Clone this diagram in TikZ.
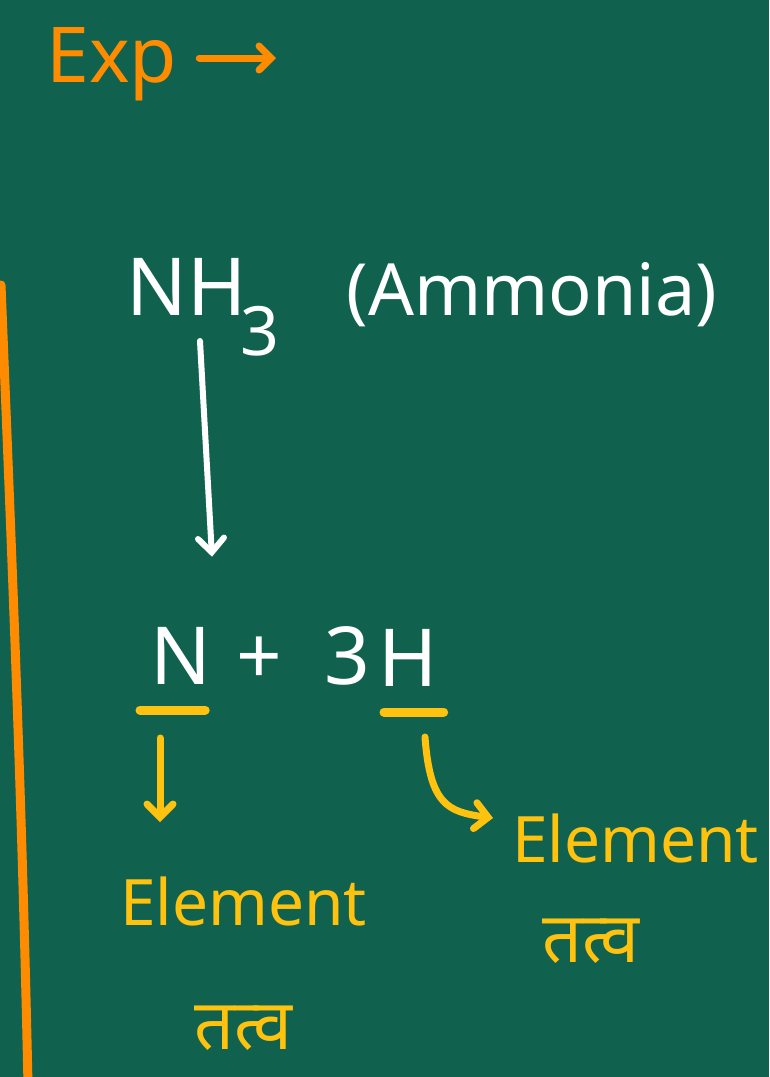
\documentclass[tikz,border=0pt]{standalone}
\usepackage{fontspec}
\setmainfont{Noto Sans}
\newfontfamily\devfont[Script=Devanagari]{Noto Sans}
\usetikzlibrary{arrows.meta,positioning,calc}

\definecolor{board}{HTML}{10624F}
\definecolor{chalkor}{HTML}{FF8C00}
\definecolor{chalkye}{HTML}{FFC20E}

\begin{document}
\begin{tikzpicture}[
  x=1pt, y=-1pt,
  txt/.style  = {inner sep=0pt, anchor=base west},
  wt/.style   = {txt, text=white, font=\fontsize{80}{80}\selectfont},
  ot/.style   = {txt, text=chalkor, font=\fontsize{77}{77}\selectfont},
  yt/.style   = {txt, text=chalkye, font=\fontsize{64}{64}\selectfont},
  hin/.style  = {inner sep=0pt, text=chalkye, font=\devfont\fontsize{70}{70}\selectfont},
  war/.style  = {-{Straight Barb[length=14pt,width=26pt,line cap=round]},
                 line width=6pt, line cap=round, white},
  yar/.style  = {-{Straight Barb[length=13pt,width=26pt,line cap=round]},
                 line width=7pt, line cap=round, chalkye},
  oar/.style  = {-{Straight Barb[length=12pt,width=24pt,line cap=round]},
                 line width=7pt, line cap=round, chalkor},
  uline/.style= {line width=9pt, line cap=round, chalkye},
]

% =========================== board ========================================
\fill[board] (0,0) rectangle (769,1077);
\useasboundingbox (0,0) rectangle (769,1077);
\draw[chalkor, line width=9pt, line cap=round]
  (1,285) .. controls (12,560) and (22,800) .. (28,1085);

% =========================== heading ======================================
\node[ot] (exp) at (46,82) {Exp};
\coordinate (expend) at (276,58);
\draw[oar] ([xshift=22pt,yshift=24pt]exp.base east) -- (expend);

% =========================== compound =====================================
\node[wt] (nh) at (126,315)
  {NH\kern-6pt\raisebox{-40pt}{\fontsize{68}{68}\selectfont 3}};
\node[txt, text=white, font=\fontsize{72}{72}\selectfont,
      base right=67pt of nh] (amm) {(Ammonia)};

% =========================== products =====================================
\node[wt] (nn) at (150,684) {N};
\node[wt] (pl) at (236,684) {+};
\node[wt] (th) at (324,684) {3};
\node[wt] (hh) at (378,686) {H};

\draw[war] ([xshift=74pt,yshift=-26pt]nh.base west) -- ([xshift=62pt,yshift=70pt]nn.north west);

% underlines
\draw[uline] ($(nn.base west)+(-10,26)$) -- ($(nn.base east)+(-6,26)$);
\draw[uline] ($(hh.base west)+(6,26)$) -- ($(hh.base east)+(6,26)$);

% =========================== element labels ===============================
\node[yt] (el1) at (120,925) {Element};
\node[hin, below=80pt of el1] (tv1) {तत्व};

\node[yt] (el2) at (512,862) {Element};
\node[hin, anchor=base west] (tv2) at (542,962) {तत्व};

\coordinate (ntail) at (160,738);
\coordinate (nhead) at (160,822);
\draw[yar] (ntail) -- (nhead);

\coordinate (htail) at (425,737);
\coordinate (hhead) at (493,818);
\draw[yar] (htail) .. controls (430,805) and (448,812) .. (hhead);

\end{tikzpicture}
\end{document}
